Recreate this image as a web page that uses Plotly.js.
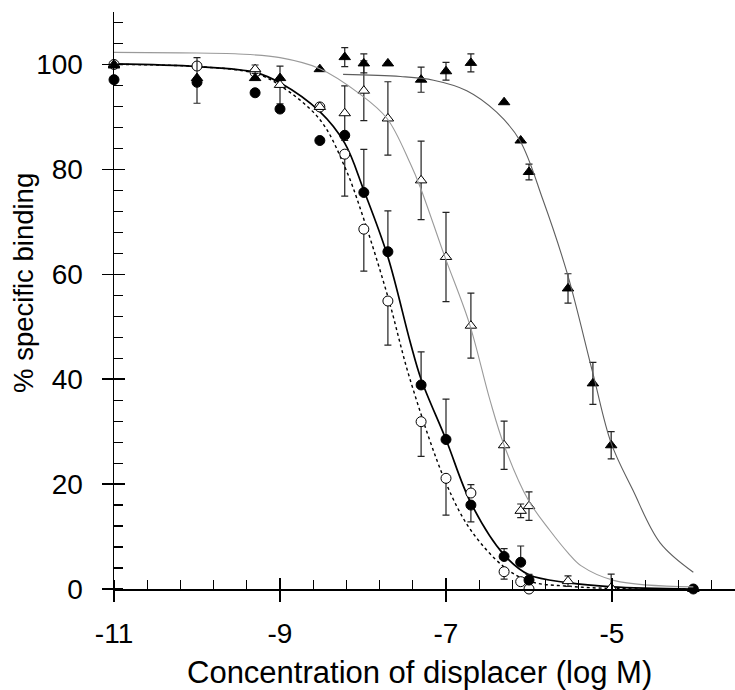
<!DOCTYPE html>
<html>
<head>
<meta charset="utf-8">
<script src="https://cdn.plot.ly/plotly-3.0.1.min.js"></script>
<style>html,body{margin:0;padding:0;background:#fff;}#chart{width:735px;height:690px;}</style>
</head>
<body>
<div id="chart"></div>
<script>
// ---- Data (x = log M, y = % specific binding) ----
// Filled circles
const fcX = [-11, -10, -9.3, -9, -8.52, -8.22, -7.99, -7.7, -7.3, -7.0, -6.7, -6.3, -6.1, -6.0, -4.02];
const fcY = [97.1, 96.6, 94.6, 91.5, 85.5, 86.5, 75.6, 64.3, 38.9, 28.5, 16.0, 6.2, 5.1, 1.7, 0];
const fcErrUp = [0, 4.7, 0, 0, 0, 0, 8.2, 7.8, 6.3, 7.7, 0, 1.5, 3.1, 1.1, 0];
const fcErrDn = [0, 4.0, 0, 0, 0, 0, 0, 0, 0, 0, 3.2, 0, 0, 0, 0];
// Open circles
const ocX = [-11, -10, -9.3, -8.52, -8.22, -7.99, -7.7, -7.3, -7.0, -6.7, -6.3, -6.1, -6.0];
const ocY = [100, 99.7, 98.5, 91.9, 82.9, 68.6, 54.9, 31.9, 21.1, 18.3, 3.3, 1.4, 0];
const ocErrUp = [0, 0, 0, 0, 0, 0, 0, 0, 0, 1.6, 0, 0, 0];
const ocErrDn = [0, 0, 0, 0, 8.0, 8.0, 8.4, 6.6, 7.0, 0, 1.4, 0, 0];
// Open triangles
const otX = [-11, -9.3, -9, -8.52, -8.22, -7.99, -7.7, -7.3, -7.0, -6.7, -6.3, -6.1, -6.0, -5.53, -5.01];
const otY = [100, 99.1, 96.1, 91.9, 90.7, 95.0, 89.7, 77.9, 63.3, 50.2, 27.4, 14.9, 15.8, 1.5, 0.25];
const otErrUp = [0, 0.8, 3.6, 0, 5.2, 5.7, 7.0, 7.5, 8.5, 6.2, 4.6, 1.3, 2.7, 1.0, 2.6];
const otErrDn = [0, 0.8, 3.6, 0, 5.2, 5.7, 7.0, 7.5, 8.5, 6.2, 4.6, 1.3, 2.7, 1.0, 0];
// Filled triangles
const ftX = [-11, -10, -9.3, -9, -8.52, -8.22, -7.99, -7.7, -7.3, -7.0, -6.7, -6.3, -6.1, -6.0, -5.53, -5.23, -5.01, -4.02];
const ftY = [99.8, 97.4, 97.4, 97.4, 99.1, 101.4, 100.2, 100.2, 97.1, 98.7, 100.3, 92.8, 85.5, 79.5, 57.3, 39.2, 27.4, 0];
const ftErr = [0, 0, 0, 0, 0, 1.8, 1.8, 0, 2.4, 1.7, 1.7, 0, 0, 1.5, 2.8, 4.0, 2.6, 0];

// Fitted curves
const curveAX = [-11, -10, -9.3, -9, -8.52, -8.22, -7.99, -7.7, -7.43, -7.3, -7.0, -6.7, -6.3, -6.0, -5.53, -5.0, -4.02];
const curveAY = [100.1, 99.6, 98.5, 96.5, 91, 85, 76, 63.3, 47, 40, 28.5, 16.4, 6.5, 2.7, 1.2, 0.4, 0];
const curveBX = [-11, -10, -9.3, -9, -8.52, -8.22, -7.99, -7.7, -7.43, -7.0, -6.7, -6.3, -5.98, -5.5, -5.0, -4.02];
const curveBY = [100, 99.6, 98.3, 96, 89.5, 80.5, 70.5, 55.7, 39.8, 20.2, 11.2, 4.2, 1.4, 0.5, 0.1, 0];
const curveCX = [-11, -10.2, -9.5, -9.0, -8.52, -8.04, -7.71, -7.43, -7.31, -7.02, -6.72, -6.47, -6.3, -6.01, -5.75, -5.53, -5.37, -4.97, -4.02];
const curveCY = [102.3, 102.2, 102, 101.3, 99.2, 94.4, 89.7, 81.1, 76.6, 63.6, 50.7, 36, 27.4, 17, 11.2, 6.9, 4.4, 1.6, 0.4];
const curveDX = [-8.24, -7.55, -7.15, -6.75, -6.39, -6.11, -5.83, -5.54, -5.23, -5.01, -4.75, -4.42, -4.02];
const curveDY = [98.1, 97.7, 97, 95, 90.9, 85.5, 74.1, 60.2, 41.1, 27.8, 18.9, 8.8, 3.2];

// Axis ticks and titles
const xTickVals = [-11, -9, -7, -5];
const xTickText = ['-11', '-9', '-7', '-5'];
const yTickVals = [0, 20, 40, 60, 80, 100];
const yTickText = ['0', '20', '40', '60', '80', '100'];
const xTitle = 'Concentration of displacer (log M)';
const yTitle = '% specific binding';

const FONT = '"Liberation Sans", Arial, Helvetica, sans-serif';

function curve(x, y, color, width, dash, xa) {
  return {x: x, y: y, mode: 'lines', type: 'scatter', xaxis: xa || 'x', yaxis: 'y',
    line: {color: color, width: width, dash: dash, shape: 'spline', smoothing: 1},
    hoverinfo: 'skip', showlegend: false};
}
function pts(x, y, up, dn, symbol, fill, size) {
  return {x: x, y: y, mode: 'markers', type: 'scatter', cliponaxis: false,
    marker: {symbol: symbol, size: size, color: fill, line: {color: '#000', width: 1}},
    error_y: {type: 'data', symmetric: false, array: up, arrayminus: dn, color: '#222', thickness: 1.2, width: 3.5},
    showlegend: false};
}

const traces = [
  curve(curveCX, curveCY, '#9a9a9a', 1.1, 'solid', 'x3'),
  curve(curveDX, curveDY, '#5e5e5e', 1.1, 'solid', 'x2'),
  curve(curveBX, curveBY, '#000000', 1.4, 'dot'),
  curve(curveAX, curveAY, '#000000', 1.7, 'solid'),
  pts(ocX, ocY, ocErrUp, ocErrDn, 'circle', '#ffffff', 10),
  pts(otX, otY, otErrUp, otErrDn, 'triangle-up', '#ffffff', 10),
  pts(fcX, fcY, fcErrUp, fcErrDn, 'circle', '#000000', 10),
  pts(ftX, ftY, ftErr, ftErr, 'triangle-up', '#000000', 10)
];
// y-axis inside major ticks via an overlaying axis
traces.push(Object.assign(curve(curveAX, curveAY, 'rgba(0,0,0,0)', 0, 'solid'), {yaxis: 'y2'}));

const XR = [-11, -3.518];
const YR = [0, 110];
const YDOM = [8 / 585, 1];
const layout = {
  width: 735, height: 690,
  margin: {l: 114, r: 0, t: 12, b: 93, pad: 0},
  paper_bgcolor: '#fff', plot_bgcolor: '#fff',
  font: {family: FONT, color: '#000', size: 28},
  showlegend: false,
  xaxis: {
    range: XR, anchor: 'y', tickmode: 'array', tickvals: xTickVals, ticktext: xTickText,
    ticks: 'outside', ticklen: 11, tickwidth: 1.5, tickcolor: '#000', showticklabels: false,
    minor: {tickmode: 'linear', tick0: -11, dtick: 0.4, ticks: 'inside', ticklen: 9, tickwidth: 1.2, tickcolor: '#000'},
    showline: true, linecolor: '#000', linewidth: 1.5, showgrid: false, zeroline: false,
    automargin: false, fixedrange: true
  },
  xaxis2: {
    range: XR, overlaying: 'x', anchor: 'y', side: 'bottom', tickmode: 'array', tickvals: xTickVals,
    ticks: 'inside', ticklen: 11, tickwidth: 1.5, tickcolor: '#000', showticklabels: false,
    showline: false, showgrid: false, zeroline: false, automargin: false
  },
  xaxis3: {
    range: XR, overlaying: 'x', anchor: 'free', position: 0, side: 'bottom', tickmode: 'array', tickvals: xTickVals, ticktext: xTickText,
    ticks: 'outside', ticklen: 11, tickwidth: 1, tickcolor: 'rgba(0,0,0,0)', showticklabels: true,
    tickfont: {family: FONT, size: 28, color: '#000'},
    showline: false, showgrid: false, zeroline: false, automargin: false
  },
  yaxis: {
    range: YR, domain: YDOM, tickmode: 'array', tickvals: yTickVals, ticktext: yTickText,
    ticks: 'outside', ticklen: 11, tickwidth: 1.5, tickcolor: '#000',
    minor: {tickmode: 'linear', tick0: 0, dtick: 4, ticks: 'inside', ticklen: 9, tickwidth: 1.2, tickcolor: '#000'},
    showline: true, linecolor: '#000', linewidth: 1.5, showgrid: false, zeroline: false,
    tickfont: {family: FONT, size: 28, color: '#000'}, ticklabelstandoff: 13,
    automargin: false, fixedrange: true
  },
  yaxis2: {
    range: YR, domain: YDOM, overlaying: 'y', anchor: 'x', side: 'left', tickmode: 'array', tickvals: yTickVals,
    ticks: 'inside', ticklen: 11, tickwidth: 1.5, tickcolor: '#000', showticklabels: false,
    showline: false, showgrid: false, zeroline: false, automargin: false
  },
  annotations: [
    {text: xTitle, xref: 'paper', yref: 'paper', x: 0.492, y: -0.1299, xanchor: 'center', yanchor: 'middle',
     showarrow: false, font: {family: FONT, size: 31, color: '#000'}},
    {text: yTitle, xref: 'paper', yref: 'paper', x: -0.145, y: 0.5368, xanchor: 'center', yanchor: 'middle',
     textangle: -90, showarrow: false, font: {family: FONT, size: 27.5, color: '#000'}}
  ]
};

Plotly.newPlot('chart', traces, layout, {displayModeBar: false, staticPlot: true});
</script>
</body>
</html>
